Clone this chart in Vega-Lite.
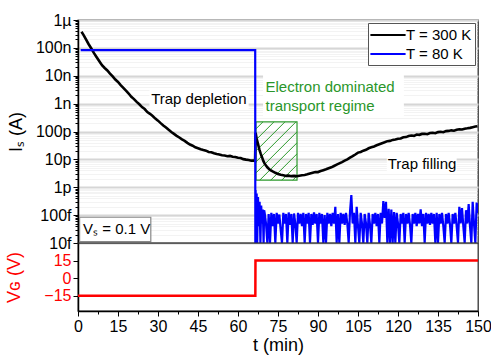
{
  "$schema": "https://vega.github.io/schema/vega-lite/v6.json",
  "padding": {"left": 5, "top": 11, "right": 8, "bottom": 2},
  "spacing": 0,
  "bounds": "flush",
  "datasets": {
    "hot": [
      {"t":1.3,"i":3.8e-7},{"t":2,"i":3.0e-7},{"t":3,"i":2.0e-7},{"t":4,"i":1.35e-7},{"t":5,"i":9.5e-8},{"t":6,"i":6.5e-8},{"t":7,"i":4.6e-8},{"t":8,"i":3.3e-8},{"t":9,"i":2.4e-8},{"t":10,"i":1.9e-8},{"t":11,"i":1.55e-8},{"t":12,"i":1.2e-8},{"t":13,"i":9.5e-9},{"t":14,"i":7.3e-9},{"t":15,"i":6.0e-9},{"t":16,"i":4.6e-9},{"t":17,"i":3.7e-9},{"t":18,"i":2.9e-9},{"t":19,"i":2.3e-9},{"t":20,"i":1.75e-9},{"t":21,"i":1.45e-9},{"t":22,"i":1.15e-9},{"t":23,"i":9.5e-10},{"t":24,"i":7.5e-10},{"t":25,"i":6.4e-10},{"t":26,"i":5.0e-10},{"t":27,"i":4.3e-10},{"t":28,"i":3.6e-10},{"t":29,"i":2.9e-10},{"t":30,"i":2.45e-10},{"t":31,"i":2.0e-10},{"t":32,"i":1.65e-10},{"t":33,"i":1.4e-10},{"t":34,"i":1.15e-10},{"t":35,"i":9.6e-11},{"t":36,"i":8.2e-11},{"t":37,"i":7.0e-11},{"t":38,"i":6.1e-11},{"t":39,"i":5.2e-11},{"t":40,"i":4.6e-11},{"t":41,"i":3.9e-11},{"t":42,"i":3.4e-11},{"t":43,"i":3.1e-11},{"t":44,"i":2.7e-11},{"t":45,"i":2.5e-11},{"t":46,"i":2.3e-11},{"t":47,"i":2.15e-11},{"t":48,"i":2.05e-11},{"t":49,"i":1.85e-11},{"t":50,"i":1.8e-11},{"t":51,"i":1.65e-11},{"t":52,"i":1.55e-11},{"t":53,"i":1.5e-11},{"t":54,"i":1.4e-11},{"t":55,"i":1.38e-11},{"t":56,"i":1.3e-11},{"t":57,"i":1.33e-11},{"t":58,"i":1.25e-11},{"t":59,"i":1.22e-11},{"t":60,"i":1.15e-11},{"t":61,"i":1.12e-11},{"t":62,"i":1.02e-11},{"t":63,"i":9.8e-12},{"t":64,"i":9.5e-12},{"t":65,"i":9.0e-12},{"t":66,"i":9.1e-12},{"t":66.4,"i":8.8e-12},
      {"t":66.6,"i":9e-11},{"t":67,"i":5.5e-11},{"t":67.5,"i":3.6e-11},{"t":68,"i":2.3e-11},{"t":68.5,"i":1.6e-11},{"t":69,"i":1.2e-11},{"t":69.5,"i":8.8e-12},{"t":70,"i":7e-12},{"t":70.5,"i":6e-12},{"t":71,"i":5.2e-12},{"t":72,"i":4.2e-12},{"t":73,"i":3.7e-12},{"t":74,"i":3.3e-12},{"t":75,"i":3.0e-12},{"t":76,"i":2.8e-12},{"t":77,"i":2.7e-12},{"t":78,"i":2.55e-12},{"t":79,"i":2.6e-12},{"t":80,"i":2.5e-12},{"t":81,"i":2.55e-12},{"t":82,"i":2.5e-12},{"t":83,"i":2.6e-12},{"t":84,"i":2.7e-12},{"t":85,"i":2.75e-12},{"t":86,"i":2.9e-12},{"t":87,"i":3.1e-12},{"t":88,"i":3.3e-12},{"t":89,"i":3.5e-12},{"t":90,"i":3.5e-12},{"t":91,"i":3.8e-12},{"t":92,"i":4.1e-12},{"t":93,"i":4.4e-12},{"t":94,"i":4.8e-12},{"t":95,"i":5.2e-12},{"t":96,"i":5.8e-12},{"t":97,"i":6.5e-12},{"t":98,"i":7.2e-12},{"t":99,"i":8.0e-12},{"t":100,"i":9.0e-12},{"t":101,"i":1.0e-11},{"t":102,"i":1.15e-11},{"t":103,"i":1.3e-11},{"t":104,"i":1.5e-11},{"t":105,"i":1.75e-11},{"t":106,"i":1.85e-11},{"t":107,"i":2.05e-11},{"t":108,"i":2.2e-11},{"t":109,"i":2.5e-11},{"t":110,"i":2.7e-11},{"t":111,"i":2.9e-11},{"t":112,"i":3.2e-11},{"t":113,"i":3.5e-11},{"t":114,"i":3.8e-11},{"t":115,"i":4.1e-11},{"t":116,"i":4.5e-11},{"t":117,"i":4.6e-11},{"t":118,"i":5.0e-11},{"t":119,"i":5.2e-11},{"t":120,"i":5.5e-11},{"t":121,"i":5.6e-11},{"t":122,"i":6.2e-11},{"t":123,"i":6.3e-11},{"t":124,"i":6.9e-11},{"t":125,"i":7.2e-11},{"t":126,"i":7.0e-11},{"t":127,"i":7.8e-11},{"t":128,"i":7.6e-11},{"t":129,"i":8.2e-11},{"t":130,"i":8.3e-11},{"t":131,"i":8.0e-11},{"t":132,"i":8.8e-11},{"t":133,"i":9.0e-11},{"t":134,"i":8.7e-11},{"t":135,"i":9.5e-11},{"t":136,"i":9.8e-11},{"t":137,"i":9.4e-11},{"t":138,"i":1.03e-10},{"t":139,"i":1.05e-10},{"t":140,"i":1.1e-10},{"t":141,"i":1.07e-10},{"t":142,"i":1.15e-10},{"t":143,"i":1.2e-10},{"t":144,"i":1.18e-10},{"t":145,"i":1.26e-10},{"t":146,"i":1.3e-10},{"t":147,"i":1.35e-10},{"t":148,"i":1.42e-10},{"t":149,"i":1.5e-10},{"t":149.8,"i":1.55e-10}
    ],
    "cold": [
      {"t":1.0,"i":8.3e-8},{"t":66.45,"i":8.3e-8},{"t":66.5,"i":1e-14},{"t":66.6,"i":8e-13},{"t":66.8,"i":3e-14},{"t":67.0,"i":6e-13},{"t":67.2,"i":1e-14},{"t":67.5,"i":4.5e-13},{"t":67.8,"i":4e-14},{"t":68.1,"i":3e-13},{"t":68.4,"i":1e-14},{"t":68.7,"i":2.2e-13},{"t":69.0,"i":5e-14},{"t":69.3,"i":1.6e-13},{"t":69.6,"i":1e-14},{"t":69.8,"i":1.5e-13},
      {"t":70.0,"i":1.2e-13},{"t":70.5,"i":5e-14},{"t":71.0,"i":1e-14},{"t":71.5,"i":1.1e-13},{"t":72.0,"i":1e-14},{"t":72.5,"i":1.2e-13},{"t":73.0,"i":4e-14},{"t":73.5,"i":1.1e-13},{"t":74.0,"i":1e-14},{"t":74.5,"i":1.2e-13},{"t":75.0,"i":5e-14},{"t":75.5,"i":1.05e-13},{"t":76.0,"i":3e-14},{"t":76.5,"i":1e-14},{"t":77.0,"i":1.2e-13},{"t":77.5,"i":5e-14},{"t":78.0,"i":1.1e-13},{"t":78.5,"i":1e-14},{"t":79.0,"i":1.25e-13},{"t":79.5,"i":4.5e-14},{"t":80.0,"i":1.1e-13},{"t":80.5,"i":1e-14},{"t":81.0,"i":1.15e-13},{"t":81.5,"i":5e-14},{"t":82.0,"i":1e-14},{"t":82.5,"i":1.2e-13},{"t":83.0,"i":5e-14},{"t":83.5,"i":1.1e-13},{"t":84.0,"i":4e-14},{"t":84.5,"i":1.2e-13},{"t":85.0,"i":1e-14},{"t":85.5,"i":1.1e-13},{"t":86.0,"i":5e-14},{"t":86.5,"i":1.2e-13},{"t":87.0,"i":1e-14},{"t":87.5,"i":1.1e-13},{"t":88.0,"i":4.5e-14},{"t":88.5,"i":1.25e-13},{"t":89.0,"i":5e-14},{"t":89.5,"i":1.1e-13},{"t":90.0,"i":1e-14},{"t":90.5,"i":1.2e-13},{"t":91.0,"i":5e-14},{"t":91.5,"i":1.1e-13},{"t":92.0,"i":1e-14},{"t":92.5,"i":1.0e-13},{"t":93.0,"i":1e-14},{"t":93.5,"i":1.2e-13},{"t":94.0,"i":5e-14},{"t":94.5,"i":1.1e-13},{"t":95.0,"i":4e-14},{"t":95.5,"i":1.2e-13},{"t":96.0,"i":5e-14},{"t":96.5,"i":2e-13},{"t":97.0,"i":1e-14},{"t":97.5,"i":1.1e-13},{"t":98.0,"i":1e-14},{"t":98.5,"i":1.2e-13},{"t":99.0,"i":5e-14},{"t":99.5,"i":1.1e-13},{"t":100.0,"i":4.5e-14},{"t":100.5,"i":1.2e-13},{"t":101.0,"i":5e-14},{"t":101.5,"i":1e-14},{"t":102.0,"i":1.3e-13},{"t":102.5,"i":5.2e-13},{"t":103.0,"i":5e-14},{"t":103.5,"i":1.2e-13},{"t":104.0,"i":1e-14},{"t":104.5,"i":2e-13},{"t":105.0,"i":4e-14},{"t":105.5,"i":1e-14},{"t":106.0,"i":1.2e-13},{"t":106.5,"i":5e-14},{"t":107.0,"i":1e-14},{"t":107.5,"i":1.1e-13},{"t":108.0,"i":5e-14},{"t":108.5,"i":1e-14},{"t":109.0,"i":1.2e-13},{"t":109.5,"i":4.5e-14},{"t":110.0,"i":1e-14},{"t":110.5,"i":1.1e-13},{"t":111.0,"i":5e-14},{"t":111.5,"i":1.2e-13},{"t":112.0,"i":4e-14},{"t":112.5,"i":1.1e-13},{"t":113.0,"i":1e-14},{"t":113.5,"i":1.2e-13},{"t":114.0,"i":5e-14},{"t":114.5,"i":3.2e-13},{"t":115.0,"i":8e-14},{"t":115.5,"i":3e-13},{"t":116.0,"i":1e-14},{"t":116.5,"i":1.7e-13},{"t":117.0,"i":1e-14},{"t":117.5,"i":1.6e-13},{"t":118.0,"i":1e-14},{"t":118.5,"i":1.3e-13},{"t":119.0,"i":1e-14},{"t":119.5,"i":1.2e-13},{"t":120.0,"i":5e-14},{"t":120.5,"i":1e-14},{"t":121.0,"i":1.1e-13},{"t":121.5,"i":5e-14},{"t":122.0,"i":1.2e-13},{"t":122.5,"i":1e-14},{"t":123.0,"i":1.1e-13},{"t":123.5,"i":5e-14},{"t":124.0,"i":1.2e-13},{"t":124.5,"i":4.5e-14},{"t":125.0,"i":1e-14},{"t":125.5,"i":1.1e-13},{"t":126.0,"i":5e-14},{"t":126.5,"i":1.2e-13},{"t":127.0,"i":4e-14},{"t":127.5,"i":1.1e-13},{"t":128.0,"i":5e-14},{"t":128.5,"i":1.6e-13},{"t":129.0,"i":4e-14},{"t":129.5,"i":1.1e-13},{"t":130.0,"i":1e-14},{"t":130.5,"i":1.2e-13},{"t":131.0,"i":5e-14},{"t":131.5,"i":1.1e-13},{"t":132.0,"i":4.5e-14},{"t":132.5,"i":1.2e-13},{"t":133.0,"i":5e-14},{"t":133.5,"i":1.1e-13},{"t":134.0,"i":1e-14},{"t":134.5,"i":1.2e-13},{"t":135.0,"i":1e-14},{"t":135.5,"i":1.1e-13},{"t":136.0,"i":5e-14},{"t":136.5,"i":1.2e-13},{"t":137.0,"i":4e-14},{"t":137.5,"i":1e-14},{"t":138.0,"i":1.1e-13},{"t":138.5,"i":5e-14},{"t":139.0,"i":1.2e-13},{"t":139.5,"i":4.5e-14},{"t":140.0,"i":1e-14},{"t":140.5,"i":1.1e-13},{"t":141.0,"i":5e-14},{"t":141.5,"i":1.2e-13},{"t":142.0,"i":4e-14},{"t":142.5,"i":1e-14},{"t":143.0,"i":2e-13},{"t":143.5,"i":5e-14},{"t":144.0,"i":1.8e-13},{"t":144.5,"i":4e-14},{"t":145.0,"i":1e-14},{"t":145.5,"i":1.5e-13},{"t":146.0,"i":5e-14},{"t":146.5,"i":2.5e-13},{"t":147.0,"i":4e-14},{"t":147.5,"i":1e-14},{"t":148.0,"i":3e-13},{"t":148.5,"i":5e-14},{"t":149.0,"i":1e-14},{"t":149.5,"i":2.8e-13},{"t":150.0,"i":1.2e-13}
    ],
    "hatch": [
      {"t1":66.75,"i1":1.25e-10,"t2":69.38,"i2":2.22e-10},
      {"t1":66.75,"i1":5.01e-11,"t2":73.5,"i2":2.22e-10},
      {"t1":66.75,"i1":2.02e-11,"t2":77.63,"i2":2.22e-10},
      {"t1":66.75,"i1":8.13e-12,"t2":81.75,"i2":2.22e-10},
      {"t1":66.75,"i1":3.27e-12,"t2":82.13,"i2":9.72e-11},
      {"t1":68.14,"i1":1.79e-12,"t2":82.13,"i2":3.92e-11},
      {"t1":72.26,"i1":1.79e-12,"t2":82.13,"i2":1.58e-11},
      {"t1":76.39,"i1":1.79e-12,"t2":82.13,"i2":6.34e-12},
      {"t1":80.51,"i1":1.79e-12,"t2":82.13,"i2":2.55e-12}
    ],
    "region": [{"t1":66.75,"t2":82.13,"i1":1.79e-12,"i2":2.22e-10}],
    "bg": [
      {"t1":26.8,"t2":64.0,"i1":5.9e-10,"i2":3.3e-9},
      {"t1":69.4,"t2":122.2,"i1":3.55e-10,"i2":1.15e-8},
      {"t1":115.8,"t2":142.0,"i1":3.47e-12,"i2":1.41e-11}
    ],
    "vsbox": [{"t1":0.6,"t2":27.3,"i1":1.12e-14,"i2":8.4e-14}],
    "labels": [
      {"t":45.3,"i":1.44e-9,"txt":"Trap depletion"},
      {"t":129,"i":7e-12,"txt":"Trap filling"}
    ],
    "green": [
      {"t":70.3,"i":3.8e-9,"txt":"Electron dominated"},
      {"t":70.3,"i":8.1e-10,"txt":"transport regime"}
    ],
    "vslabel": [{"t":1.9,"i":3.3e-14,"txt":"Vₛ = 0.1 V"}],
    "vg": [{"t":0,"v":-15},{"t":66.5,"v":-15},{"t":66.55,"v":15},{"t":150,"v":15}]
  },
  "vconcat": [
    {
      "width": 400,
      "height": 223,
      "layer": [
        {
          "data": {"name": "bg"},
          "mark": {"type": "rect", "fill": "white", "strokeWidth": 0},
          "encoding": {
            "x": {"field": "t1", "type": "quantitative", "scale": {"domain": [0, 150]}, "axis": null},
            "x2": {"field": "t2"},
            "y": {"field": "i1", "type": "quantitative", "scale": {"type": "log", "domain": [1e-14, 1e-6]},
                  "axis": {
                    "title": "Iₛ (A)", "titlePadding": 10, "labelPadding": 2, "labelFlush": false,
                    "values": [1e-14,2e-14,3e-14,4e-14,5e-14,6e-14,7e-14,8e-14,9e-14,1e-13,2e-13,3e-13,4e-13,5e-13,6e-13,7e-13,8e-13,9e-13,1e-12,2e-12,3e-12,4e-12,5e-12,6e-12,7e-12,8e-12,9e-12,1e-11,2e-11,3e-11,4e-11,5e-11,6e-11,7e-11,8e-11,9e-11,1e-10,2e-10,3e-10,4e-10,5e-10,6e-10,7e-10,8e-10,9e-10,1e-9,2e-9,3e-9,4e-9,5e-9,6e-9,7e-9,8e-9,9e-9,1e-8,2e-8,3e-8,4e-8,5e-8,6e-8,7e-8,8e-8,9e-8,1e-7,2e-7,3e-7,4e-7,5e-7,6e-7,7e-7,8e-7,9e-7,1e-6],
                    "labelExpr": "abs(log(datum.value)/LN10 - round(log(datum.value)/LN10)) < 0.001 ? format(datum.value, '~s') : ''",
                    "labelOverlap": false,
                    "grid": true,
                    "gridColor": {"condition": {"test": "abs(log(datum.value)/LN10 - round(log(datum.value)/LN10)) < 0.001", "value": "#d6d6d6"}, "value": "#e6e6e6"},
                    "gridWidth": {"condition": {"test": "abs(log(datum.value)/LN10 - round(log(datum.value)/LN10)) < 0.001", "value": 1.8}, "value": 1},
                    "gridDash": {"condition": {"test": "abs(log(datum.value)/LN10 - round(log(datum.value)/LN10)) < 0.001", "value": []}, "value": [1, 1]},
                    "tickSize": {"condition": {"test": "abs(log(datum.value)/LN10 - round(log(datum.value)/LN10)) < 0.001", "value": 5}, "value": 3}
                  }},
            "y2": {"field": "i2"}
          }
        },
        {
          "data": {"name": "region"},
          "mark": {"type": "rect", "fillOpacity": 0, "stroke": "#2e9a2e", "strokeWidth": 1.2},
          "encoding": {
            "x": {"field": "t1", "type": "quantitative", "scale": {"domain": [0, 150]}},
            "x2": {"field": "t2"},
            "y": {"field": "i1", "type": "quantitative", "scale": {"type": "log", "domain": [1e-14, 1e-6]}},
            "y2": {"field": "i2"}
          }
        },
        {
          "data": {"name": "hatch"},
          "mark": {"type": "rule", "color": "#2e9a2e", "strokeWidth": 1},
          "encoding": {
            "x": {"field": "t1", "type": "quantitative", "scale": {"domain": [0, 150]}},
            "x2": {"field": "t2"},
            "y": {"field": "i1", "type": "quantitative", "scale": {"type": "log", "domain": [1e-14, 1e-6]}},
            "y2": {"field": "i2"}
          }
        },
        {
          "data": {"name": "hot"},
          "mark": {"type": "line", "strokeWidth": 2.6, "clip": true},
          "encoding": {
            "x": {"field": "t", "type": "quantitative", "scale": {"domain": [0, 150]}},
            "y": {"field": "i", "type": "quantitative", "scale": {"type": "log", "domain": [1e-14, 1e-6]}},
            "color": {"datum": "T = 300 K", "type": "nominal",
                      "scale": {"domain": ["T = 300 K", "T = 80 K"], "range": ["#000000", "#0000ff"]},
                      "legend": {"orient": "top-right", "title": null, "offset": 3, "strokeColor": "#555", "fillColor": "white",
                                 "padding": 3, "symbolType": "M-2.2,0H2.2", "symbolSize": 256, "symbolStrokeWidth": 2,
                                 "symbolOffset": 8, "labelOffset": 9, "labelFontSize": 15, "rowPadding": 2}}
          }
        },
        {
          "data": {"name": "cold"},
          "mark": {"type": "line", "strokeWidth": 2.2, "clip": true},
          "encoding": {
            "x": {"field": "t", "type": "quantitative", "scale": {"domain": [0, 150]}},
            "y": {"field": "i", "type": "quantitative", "scale": {"type": "log", "domain": [1e-14, 1e-6]}},
            "color": {"datum": "T = 80 K", "type": "nominal"}
          }
        },
        {
          "data": {"name": "labels"},
          "mark": {"type": "text", "fontSize": 15, "color": "black"},
          "encoding": {
            "x": {"field": "t", "type": "quantitative", "scale": {"domain": [0, 150]}},
            "y": {"field": "i", "type": "quantitative", "scale": {"type": "log", "domain": [1e-14, 1e-6]}},
            "text": {"field": "txt"}
          }
        },
        {
          "data": {"name": "green"},
          "mark": {"type": "text", "fontSize": 15, "color": "#2a962a", "align": "left"},
          "encoding": {
            "x": {"field": "t", "type": "quantitative", "scale": {"domain": [0, 150]}},
            "y": {"field": "i", "type": "quantitative", "scale": {"type": "log", "domain": [1e-14, 1e-6]}},
            "text": {"field": "txt"}
          }
        },
        {
          "data": {"name": "vsbox"},
          "mark": {"type": "rect", "fill": "white", "stroke": "#888", "strokeWidth": 1.2},
          "encoding": {
            "x": {"field": "t1", "type": "quantitative", "scale": {"domain": [0, 150]}},
            "x2": {"field": "t2"},
            "y": {"field": "i1", "type": "quantitative", "scale": {"type": "log", "domain": [1e-14, 1e-6]}},
            "y2": {"field": "i2"}
          }
        },
        {
          "data": {"name": "vslabel"},
          "mark": {"type": "text", "fontSize": 15, "color": "black", "align": "left"},
          "encoding": {
            "x": {"field": "t", "type": "quantitative", "scale": {"domain": [0, 150]}},
            "y": {"field": "i", "type": "quantitative", "scale": {"type": "log", "domain": [1e-14, 1e-6]}},
            "text": {"field": "txt"}
          }
        }
      ]
    },
    {
      "width": 400,
      "height": 68,
      "data": {"name": "vg"},
      "mark": {"type": "line", "color": "#ff0000", "strokeWidth": 2.5},
      "encoding": {
        "x": {"field": "t", "type": "quantitative", "scale": {"domain": [0, 150]},
              "axis": {"title": "t (min)", "values": [0,7.5,15,22.5,30,37.5,45,52.5,60,67.5,75,82.5,90,97.5,105,112.5,120,127.5,135,142.5,150],
                       "labelExpr": "datum.value % 15 === 0 ? datum.label : ''",
                       "labelOverlap": false, "labelFlush": false,
                       "tickSize": {"condition": {"test": "datum.value % 15 === 0", "value": 5}, "value": 3},
                       "labelPadding": 2, "titlePadding": 2}},
        "y": {"field": "v", "type": "quantitative", "scale": {"domain": [-28, 30]},
              "axis": {"title": "Vɢ (V)", "values": [-15, 0, 15], "labelColor": "#ff0000", "titleColor": "#ff0000", "titlePadding": 20, "labelPadding": 2, "labelFlush": false}}
      }
    }
  ],
  "resolve": {"legend": {"color": "independent"}, "scale": {"color": "independent"}},
  "config": {
    "font": "Liberation Sans",
    "view": {"stroke": "#333", "strokeWidth": 1.3},
    "axis": {"domainColor": "black", "domainWidth": 1.5, "tickColor": "black", "labelFontSize": 16, "titleFontSize": 18,
             "titleFontWeight": "normal", "labelColor": "black", "titleColor": "black", "grid": false, "labelFont": "Liberation Sans", "titleFont": "Liberation Sans"},
    "legend": {"labelFont": "Liberation Sans", "labelColor": "black"},
    "text": {"font": "Liberation Sans"}
  }
}
